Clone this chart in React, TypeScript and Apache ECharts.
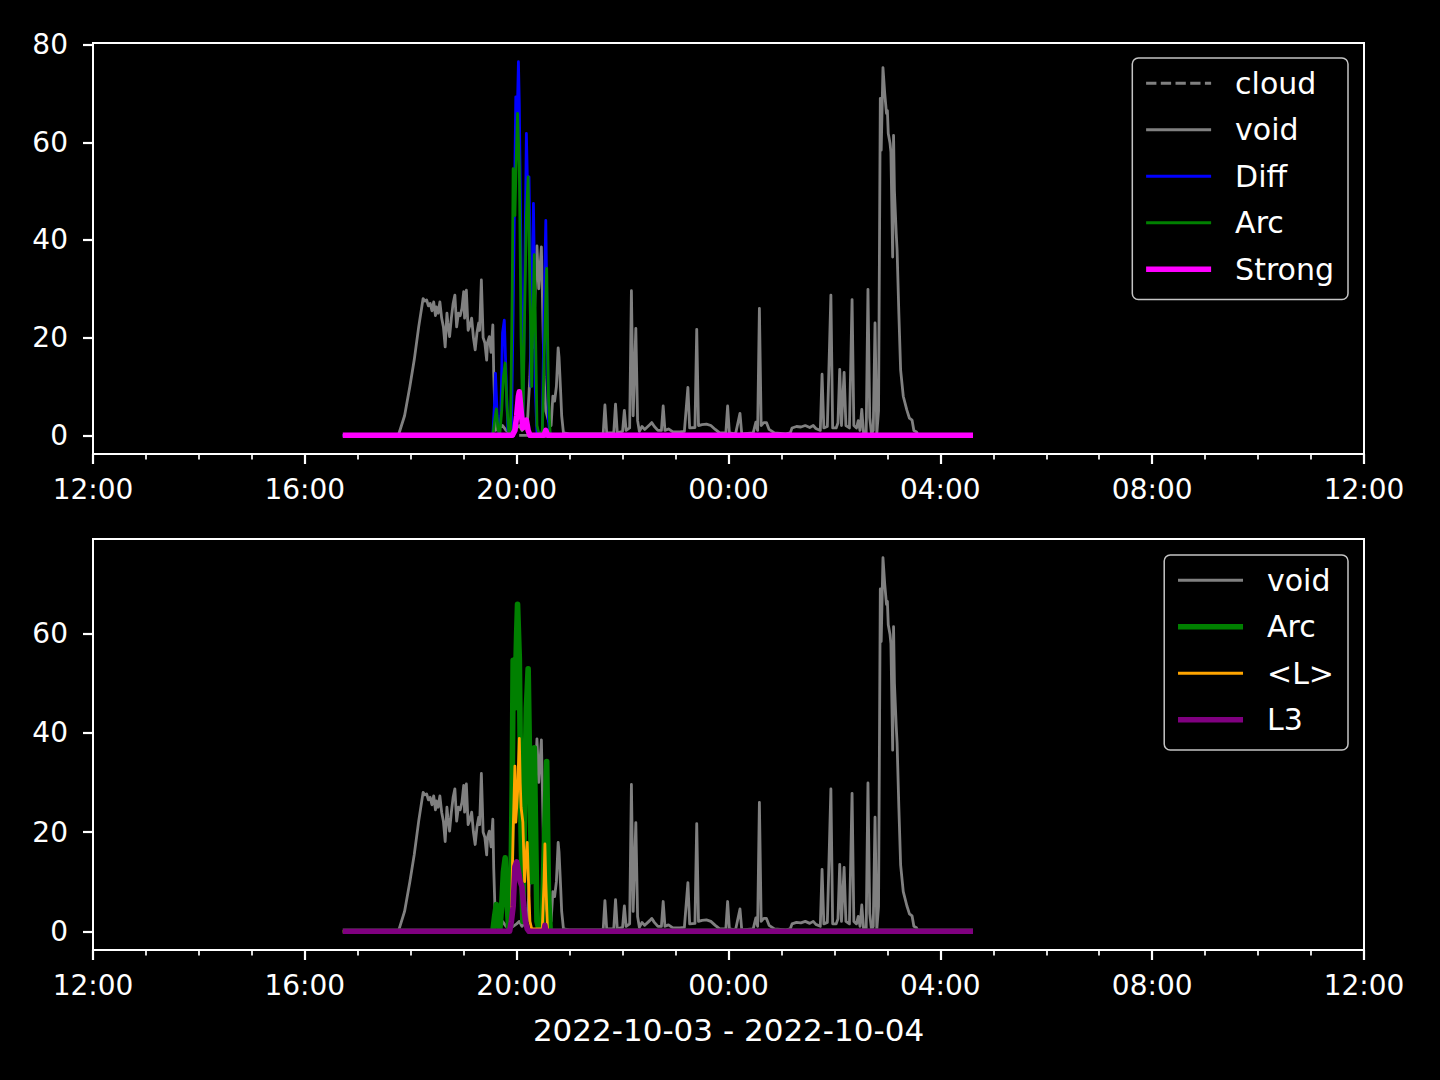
import React, { useEffect, useRef } from 'react';
import * as echarts from 'echarts';

const FONT = 'DejaVu Sans';

// Tick labels
const xTickLabels = ['12:00', '16:00', '20:00', '00:00', '04:00', '08:00', '12:00'];
const yTicksTop = [0, 20, 40, 60, 80];
const yTicksBottom = [0, 20, 40, 60];
const xTitle = '2022-10-03 - 2022-10-04';

// Series values: [time HH:MM, value]
const cloudPts: [string, number][] = [['16:43', 0], ['04:37', 0]];

const voidPts: [string, number][] = [
  ['16:43', 0], ['17:46', 0], ['17:53', 4], ['17:59', 10], ['18:04', 15.5], ['18:09', 22.2], ['18:14', 28],
  ['18:16', 27.5], ['18:18', 27.7], ['18:20', 26.5], ['18:22', 27], ['18:24', 25.5], ['18:26', 27.3], ['18:28', 24.5],
  ['18:29', 26.3], ['18:31', 25], ['18:33', 27.3], ['18:35', 24], ['18:37', 22.2], ['18:39', 18.1], ['18:41', 25],
  ['18:42', 23], ['18:44', 20.2], ['18:46', 24], ['18:48', 27], ['18:50', 28.7], ['18:52', 22.2], ['18:54', 25],
  ['18:56', 24.5], ['18:58', 26], ['19:00', 29.4], ['19:01', 24], ['19:03', 29.7], ['19:05', 21.5], ['19:07', 22.5],
  ['19:09', 24], ['19:11', 20], ['19:13', 17.5], ['19:15', 21], ['19:17', 23], ['19:18', 21.5], ['19:20', 31.8],
  ['19:21', 26], ['19:22', 20], ['19:24', 18.9], ['19:26', 15.4], ['19:27', 19], ['19:29', 20.2], ['19:31', 17],
  ['19:33', 22.6], ['19:34', 12.7], ['19:36', 1], ['19:40', 1.5], ['19:44', 2], ['19:48', 1], ['19:52', 0.5],
  ['19:56', 1], ['20:00', 1.5], ['20:03', 2], ['20:06', 1], ['20:10', 2], ['20:12', 2], ['20:15', 12], ['20:17', 24],
  ['20:19', 18], ['20:21', 30], ['20:23', 38.8], ['20:25', 30], ['20:26', 33], ['20:28', 38.6], ['20:29', 30],
  ['20:31', 12], ['20:33', 5], ['20:36', 3], ['20:39', 2], ['20:41', 8], ['20:43', 7], ['20:45', 10], ['20:47', 17.9],
  ['20:48', 16], ['20:50', 8.2], ['20:51', 4], ['20:53', 0.5], ['21:00', 0.3], ['21:38', 0.3], ['21:40', 6.2],
  ['21:42', 0.5], ['21:50', 0.5], ['21:52', 6.4], ['21:54', 0.5], ['22:00', 0.8], ['22:02', 5.1], ['22:04', 1],
  ['22:08', 1.5], ['22:10', 29.6], ['22:12', 4], ['22:15', 21.9], ['22:17', 3], ['22:19', 0.8], ['22:22', 1.8],
  ['22:25', 1.2], ['22:28', 1.7], ['22:31', 2.2], ['22:33', 2.6], ['22:36', 1.8], ['22:40', 1], ['22:44', 1],
  ['22:46', 6], ['22:48', 1], ['22:52', 1.3], ['22:57', 0.7], ['23:05', 0.7], ['23:10', 0.8], ['23:14', 9.8],
  ['23:16', 1.5], ['23:22', 1.6], ['23:24', 21.7], ['23:26', 2], ['23:30', 2.2], ['23:35', 2.3], ['23:40', 2],
  ['23:45', 1.2], ['23:50', 0.5], ['23:57', 0.5], ['23:59', 6], ['00:01', 0.5], ['00:08', 0.3], ['00:13', 4.5],
  ['00:15', 0.3], ['00:28', 0.5], ['00:31', 2.7], ['00:33', 1], ['00:35', 26], ['00:37', 2], ['00:40', 2.6],
  ['00:43', 2.6], ['00:46', 1.2], ['00:52', 0.5], ['01:05', 0.3], ['01:10', 0.5], ['01:12', 1.5], ['01:17', 1.8],
  ['01:22', 1.7], ['01:27', 2], ['01:32', 1.6], ['01:36', 2], ['01:39', 1.4], ['01:44', 1], ['01:46', 12.5],
  ['01:48', 1.5], ['01:52', 1.8], ['01:56', 28.7], ['01:58', 1.5], ['02:02', 1.5], ['02:04', 2.5], ['02:06', 13.5],
  ['02:08', 2], ['02:11', 12.9], ['02:13', 2], ['02:17', 1.5], ['02:20', 27.8], ['02:22', 2], ['02:25', 1.5],
  ['02:27', 3], ['02:29', 1], ['02:31', 5.3], ['02:33', 0.5], ['02:36', 0.5], ['02:38', 29.9], ['02:40', 3.6],
  ['02:42', 0.3], ['02:44', 1], ['02:46', 23], ['02:48', 0.3], ['02:50', 5], ['02:52', 69], ['02:53', 58.4],
  ['02:55', 75.3], ['02:57', 70], ['02:59', 65.9], ['03:00', 66.5], ['03:01', 61.8], ['03:03', 59.8], ['03:04', 58],
  ['03:06', 36.5], ['03:07', 61.4], ['03:08', 50], ['03:10', 41.4], ['03:11', 38], ['03:13', 25], ['03:15', 13.4],
  ['03:18', 8], ['03:22', 5.2], ['03:25', 3.5], ['03:28', 3.1], ['03:30', 1], ['03:33', 0.7], ['03:35', 0], ['04:37', 0],
];

const diffPts: [string, number][] = [
  ['16:43', 0], ['19:33', 0], ['19:35', 7], ['19:36', 12.7], ['19:38', 4], ['19:40', 0.5], ['19:42', 4], ['19:44', 21],
  ['19:46', 23.6], ['19:48', 12], ['19:50', 1], ['19:54', 0.5], ['19:56', 25], ['19:59', 69.3], ['20:00', 60],
  ['20:02', 76.5], ['20:03', 68], ['20:05', 35], ['20:07', 3], ['20:09', 30], ['20:11', 61.8], ['20:13', 45],
  ['20:14', 52.9], ['20:15', 40], ['20:16', 10], ['20:17', 15], ['20:19', 47.5], ['20:20', 35], ['20:21', 10],
  ['20:23', 0.5], ['20:29', 0.5], ['20:31', 25], ['20:33', 44], ['20:34', 30], ['20:36', 3], ['20:38', 0], ['04:37', 0],
];

const arcPts: [string, number][] = [
  ['16:43', 0], ['19:33', 0], ['19:35', 3], ['19:37', 5.4], ['19:39', 1], ['19:41', 0.5], ['19:43', 5], ['19:45', 12],
  ['19:47', 14.8], ['19:49', 6], ['19:51', 0.5], ['19:53', 1], ['19:55', 30], ['19:56', 54.6], ['19:58', 45],
  ['20:00', 60], ['20:01', 65.9], ['20:03', 55], ['20:05', 20], ['20:07', 2], ['20:09', 25], ['20:11', 45],
  ['20:13', 52.9], ['20:15', 30], ['20:17', 10], ['20:18', 20], ['20:20', 37], ['20:21', 25], ['20:23', 2],
  ['20:25', 0.5], ['20:29', 0.5], ['20:31', 15], ['20:34', 34.2], ['20:36', 8], ['20:38', 0], ['04:37', 0],
];

const strongPts: [string, number][] = [
  ['16:43', 0], ['19:55', 0], ['19:58', 1], ['20:00', 4], ['20:02', 8], ['20:03', 8.9], ['20:05', 5], ['20:07', 1.5],
  ['20:09', 2], ['20:11', 3.1], ['20:13', 1], ['20:15', 0], ['20:31', 0], ['20:33', 1], ['20:35', 0], ['04:37', 0],
];

const lMeanPts: [string, number][] = [
  ['16:43', 0], ['19:52', 0], ['19:54', 3], ['19:56', 20], ['19:58', 33.3], ['19:59', 22], ['20:01', 28],
  ['20:03', 38.9], ['20:04', 30], ['20:05', 25], ['20:07', 22], ['20:09', 10], ['20:10', 14], ['20:12', 17.9],
  ['20:13', 12], ['20:15', 2], ['20:17', 0.5], ['20:29', 0.5], ['20:31', 10], ['20:32', 17.6], ['20:33', 10],
  ['20:35', 0], ['04:37', 0],
];

const l3Pts: [string, number][] = [
  ['16:43', 0], ['19:52', 0], ['19:54', 2], ['19:56', 5], ['19:58', 13], ['20:00', 14], ['20:02', 12], ['20:04', 10],
  ['20:06', 9], ['20:08', 5], ['20:10', 2], ['20:12', 0.5], ['20:14', 0], ['20:31', 0], ['20:32', 1.2], ['20:33', 0],
  ['04:37', 0],
];

// x is expressed in hours elapsed since 2022-10-03 12:00
function toHours(hm: string): number {
  const [h, m] = hm.split(':').map(Number);
  const hh = h >= 12 ? h - 12 : h + 12;
  return hh + m / 60;
}
const toData = (pts: [string, number][]) => pts.map(([t, v]) => [toHours(t), v]);

const WHITE = '#ffffff';

function xAxisFor(gridIndex: number, withName: boolean) {
  return {
    gridIndex,
    type: 'value',
    position: 'bottom',
    min: 0,
    max: 24,
    interval: 4,
    axisLine: { show: false, onZero: false },
    splitLine: { show: false },
    minorSplitLine: { show: false },
    axisTick: { show: true, inside: false, length: 10, lineStyle: { color: WHITE, width: 2.2 } },
    minorTick: { show: true, splitNumber: 4, length: 5.5, lineStyle: { color: WHITE, width: 1.7 } },
    axisLabel: {
      show: true,
      formatter: (v: number) => {
        const i = Math.round(v / 4);
        return xTickLabels[i] ?? '';
      },
      color: WHITE,
      fontSize: 28,
      fontFamily: FONT,
      lineHeight: 28,
      margin: 21,
      hideOverlap: false,
      showMinLabel: true,
      showMaxLabel: true,
    },
    ...(withName
      ? {
          name: xTitle,
          nameLocation: 'middle',
          nameGap: 64,
          nameTextStyle: { color: WHITE, fontSize: 31, fontFamily: FONT, lineHeight: 31 },
        }
      : {}),
  };
}

function yAxisFor(gridIndex: number, min: number, max: number, ticks: number[]) {
  return {
    gridIndex,
    type: 'value',
    position: 'left',
    min,
    max,
    axisLine: { show: false, onZero: false },
    splitLine: { show: false },
    axisTick: { show: true, inside: false, customValues: ticks, length: 10, lineStyle: { color: WHITE, width: 2.2 } },
    axisLabel: {
      show: true,
      customValues: ticks,
      color: WHITE,
      fontSize: 28,
      fontFamily: FONT,
      margin: 25,
    },
  };
}

function lineSeries(name: string, pts: [string, number][], color: string, width: number, xAxisIndex: number, yAxisIndex: number, z: number, dash?: number[]) {
  return {
    name,
    type: 'line',
    data: toData(pts),
    xAxisIndex,
    yAxisIndex,
    symbol: 'none',
    showSymbol: false,
    color,
    z,
    lineStyle: { color, width, type: dash ? dash : 'solid', join: 'round', cap: 'butt' },
    emphasis: { disabled: true },
  };
}

const legendCommon = {
  orient: 'vertical',
  right: 92,
  itemWidth: 65,
  itemHeight: 14,
  itemGap: 14,
  padding: [9, 14, 14, 11],
  backgroundColor: '#000000',
  borderColor: '#c4c4c4',
  borderWidth: 1.5,
  borderRadius: 6,
  selectedMode: false,
  itemStyle: { opacity: 0 },
  textStyle: { color: WHITE, fontSize: 30, fontFamily: FONT, lineHeight: 32.5, padding: [0, 0, 0, 19] },
};

export default function App() {
  const ref = useRef<HTMLDivElement>(null);
  useEffect(() => {
    if (!ref.current) return;
    const chart = echarts.init(ref.current, null, { renderer: 'svg' });
    const option: any = {
      animation: false,
      backgroundColor: '#000000',
      textStyle: { fontFamily: FONT },
      grid: [
        { left: 93, right: 76, top: 43, height: 411, show: true, borderColor: WHITE, borderWidth: 2, backgroundColor: '#000000', outerBoundsMode: 'none', containLabel: false },
        { left: 93, right: 76, top: 539, height: 411, show: true, borderColor: WHITE, borderWidth: 2, backgroundColor: '#000000', outerBoundsMode: 'none', containLabel: false },
      ],
      xAxis: [xAxisFor(0, false), xAxisFor(1, true)],
      yAxis: [yAxisFor(0, -3.83, 80.33, yTicksTop), yAxisFor(1, -3.77, 79.07, yTicksBottom)],
      legend: [
        {
          ...legendCommon,
          top: 58,
          data: [
            { name: 'cloud', lineStyle: { width: 2.8, type: [10.3, 4.4], color: '#808080' } },
            { name: 'void', lineStyle: { width: 2.8, color: '#808080' } },
            { name: 'Diff', lineStyle: { width: 2.8, color: '#0000ff' } },
            { name: 'Arc', lineStyle: { width: 2.8, color: '#008000' } },
            { name: 'Strong', lineStyle: { width: 5.6, color: '#ff00ff' } },
          ],
        },
        {
          ...legendCommon,
          top: 555,
          data: [
            { name: 'void', lineStyle: { width: 2.8, color: '#808080' } },
            { name: 'Arc', lineStyle: { width: 5.6, color: '#008000' } },
            { name: '<L>', lineStyle: { width: 2.8, color: '#ffa500' } },
            { name: 'L3', lineStyle: { width: 5.6, color: '#800080' } },
          ],
        },
      ],
      series: [
        lineSeries('cloud', cloudPts, '#808080', 2.8, 0, 0, 1, [10.3, 4.4]),
        lineSeries('void', voidPts, '#808080', 2.8, 0, 0, 2),
        lineSeries('Diff', diffPts, '#0000ff', 2.8, 0, 0, 3),
        lineSeries('Arc', arcPts, '#008000', 2.8, 0, 0, 4),
        lineSeries('Strong', strongPts, '#ff00ff', 5.6, 0, 0, 5),
        lineSeries('void', voidPts, '#808080', 2.8, 1, 1, 2),
        lineSeries('Arc', arcPts, '#008000', 5.6, 1, 1, 3),
        lineSeries('<L>', lMeanPts, '#ffa500', 2.8, 1, 1, 4),
        lineSeries('L3', l3Pts, '#800080', 5.6, 1, 1, 5),
      ],
    };
    chart.setOption(option);
    return () => chart.dispose();
  }, []);
  return (
    <div
      ref={ref}
      style={{ position: 'fixed', left: 0, top: 0, width: 1440, height: 1080, background: '#000000' }}
    />
  );
}
